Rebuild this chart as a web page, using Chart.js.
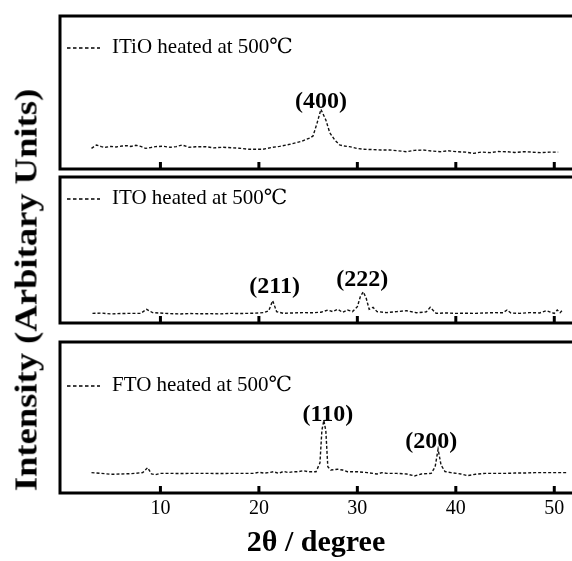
<!DOCTYPE html>
<html>
<head>
<meta charset="utf-8">
<script src="https://cdn.jsdelivr.net/npm/chart.js@4.4.0/dist/chart.umd.min.js"></script>
<style>
  html, body { margin: 0; padding: 0; background: #fff; }
  #wrap { position: relative; width: 572px; height: 561px; overflow: hidden; background: #fff; }
  canvas { position: absolute; left: 0; }
  #ytitle {
    position: absolute; left: 26px; top: 290px;
    font: bold 31px "Liberation Serif", "Times New Roman", serif;
    line-height: 1; white-space: nowrap; color: #000;
    transform: translate(-50%, -50%) rotate(-90deg) scaleX(1.18);
  }
</style>
</head>
<body>
<div id="wrap">
  <canvas id="c1" width="572" height="175" style="top:0px"></canvas>
  <canvas id="c2" width="572" height="155" style="top:172px"></canvas>
  <canvas id="c3" width="572" height="231" style="top:330px"></canvas>
  <div id="ytitle">Intensity (Arbitary Units)</div>
</div>
<script>
// --- Data ---
const xTicks = [10, 20, 30, 40, 50];

const itioX = [3.0, 3.5, 4.0, 4.4, 5.0, 5.5, 6.1, 6.6, 7.0, 7.5, 8.0, 8.5, 9.0, 9.5, 10.2, 11.0, 11.6, 12.2, 12.9, 13.6,
  14.6, 15.4, 16.3, 17.2, 18.0, 19.0, 20.4, 21.4, 22.1, 22.8, 23.3, 23.8, 24.3, 24.8, 25.2, 25.5, 25.9, 26.3, 26.8, 27.2,
  27.7, 28.2, 28.7, 29.2, 30.0, 30.6, 31.5, 32.4, 33.3, 34.0, 35.0, 35.8, 36.7, 37.5, 38.4, 39.2, 40.1, 41.0, 41.8, 42.6,
  43.5, 44.3, 45.2, 46.0, 46.9, 47.8, 48.6, 49.5, 50.4];
const itioY = [13.5, 15.7, 14.6, 14.2, 14.8, 14.4, 15.0, 15.3, 14.7, 15.5, 14.8, 13.5, 14.0, 14.6, 14.9, 14.2, 14.6, 15.7, 14.2, 14.5,
  14.6, 13.8, 14.2, 13.9, 13.6, 12.9, 12.9, 14.2, 14.8, 15.7, 16.4, 17.2, 18.0, 19.4, 20.3, 21.6, 29.8, 39.0, 32.0, 23.7,
  19.0, 15.7, 15.0, 14.6, 13.4, 12.9, 12.7, 12.4, 12.4, 12.0, 11.3, 12.2, 12.4, 11.8, 11.3, 11.9, 11.3, 11.0, 10.2, 11.1,
  10.7, 11.4, 11.3, 10.8, 11.3, 11.0, 10.7, 11.0, 11.0];

const itoX = [3.1, 4.0, 5.0, 6.0, 7.0, 8.0, 8.6, 9.2, 10.0, 11.0, 12.0, 13.0, 14.0, 15.0, 16.0, 17.0, 18.0, 19.0, 20.0, 20.5,
  21.0, 21.4, 21.8, 22.5, 23.5, 24.5, 25.5, 26.3, 27.0, 27.5, 28.0, 28.5, 29.0, 29.5, 30.0, 30.3, 30.6, 30.9, 31.2, 31.6,
  32.0, 33.0, 34.0, 35.0, 36.0, 37.0, 37.4, 38.0, 39.0, 40.0, 41.0, 42.0, 43.0, 44.0, 44.8, 45.2, 45.6, 46.5, 47.5, 48.5,
  49.2, 49.6, 50.0, 50.3, 50.6, 50.9];
const itoY = [6.6, 6.8, 6.2, 6.5, 6.6, 6.6, 9.4, 7.1, 6.8, 6.4, 6.2, 6.5, 6.3, 6.4, 6.2, 6.6, 6.5, 6.6, 6.9, 7.1,
  8.4, 15.3, 7.8, 6.6, 6.9, 7.1, 7.0, 7.4, 8.9, 7.8, 9.4, 7.3, 8.9, 7.8, 11.2, 18.0, 21.4, 16.9, 9.4, 10.7,
  7.8, 7.1, 7.8, 8.4, 7.0, 7.6, 10.7, 6.6, 6.9, 6.6, 6.7, 6.6, 6.9, 7.1, 7.0, 8.9, 6.8, 6.6, 7.1, 6.9,
  8.4, 7.5, 6.6, 8.9, 7.1, 9.4];

const ftoX = [3.0, 4.0, 5.0, 6.0, 7.0, 8.2, 8.7, 9.1, 9.5, 10.0, 11.0, 12.0, 13.0, 14.0, 15.0, 16.0, 17.0, 18.0, 19.0, 19.5,
  20.0, 20.5, 21.0, 21.5, 22.0, 22.5, 23.0, 23.5, 24.0, 24.5, 25.0, 25.8, 26.2, 26.4, 26.6, 26.8, 27.0, 27.3, 28.0, 28.5,
  29.0, 30.0, 31.0, 32.0, 32.5, 33.0, 34.0, 35.0, 35.8, 36.5, 37.5, 37.9, 38.2, 38.5, 38.9, 39.5, 40.5, 41.2, 42.0, 43.0,
  44.0, 45.0, 46.0, 47.0, 48.0, 49.0, 50.0, 51.4];
const ftoY = [13.5, 13.0, 12.4, 12.6, 12.8, 13.5, 16.8, 12.6, 12.1, 13.0, 13.0, 12.9, 13.0, 13.0, 13.0, 12.9, 13.0, 13.0, 13.0, 13.0,
  13.7, 13.2, 13.5, 14.1, 13.0, 14.3, 13.5, 14.1, 14.1, 14.8, 14.1, 14.1, 19.9, 41.7, 48.1, 41.0, 17.4, 15.2, 15.7, 15.2,
  14.1, 14.1, 13.5, 12.6, 13.5, 13.0, 13.0, 12.6, 11.3, 12.6, 13.0, 17.4, 29.0, 18.5, 14.2, 13.5, 12.6, 11.5, 12.4, 13.0,
  13.0, 13.0, 13.2, 13.2, 13.5, 13.5, 13.5, 13.5];

// peak labels (hkl) and where they sit, in data units
const itioPeaks = ['(400)'];
const itioPeakX = [26.3];
const itioPeakY = [39.9];
const itoPeaks = ['(211)', '(222)'];
const itoPeakX = [21.6, 30.5];
const itoPeakY = [20.5, 25.3];
const ftoPeaks = ['(110)', '(200)'];
const ftoPeakX = [27.0, 37.5];
const ftoPeakY = [47.7, 29.8];

const serif = '"Liberation Serif", "Times New Roman", "DejaVu Serif", serif';

// --- frame, inner tick marks, legend and peak labels ---
const panelDecor = {
    id: 'panelDecor',
    afterDatasetsDraw(chart, args, opts) {
        const { ctx, chartArea: a, scales: { x, y } } = chart;
        ctx.save();
        ctx.strokeStyle = '#000';
        ctx.lineWidth = 3;
        ctx.setLineDash([]);
        ctx.beginPath();
        ctx.moveTo(a.right + 3, a.top);
        ctx.lineTo(a.left, a.top);
        ctx.lineTo(a.left, a.bottom);
        ctx.lineTo(a.right + 3, a.bottom);
        ctx.stroke();

        // tick marks pointing into the panel
        xTicks.forEach(v => {
            const px = x.getPixelForValue(v);
            ctx.beginPath();
            ctx.moveTo(px, a.bottom);
            ctx.lineTo(px, a.bottom - 7);
            ctx.stroke();
        });

        // legend line + text
        const ly = a.top + opts.legendOffset;
        ctx.lineWidth = 1.3;
        ctx.setLineDash([3.5, 2.5]);
        ctx.beginPath();
        ctx.moveTo(a.left + 7, ly + 1);
        ctx.lineTo(a.left + 40, ly + 1);
        ctx.stroke();
        ctx.setLineDash([]);
        ctx.fillStyle = '#000';
        ctx.font = '21px ' + serif;
        ctx.textAlign = 'left';
        ctx.textBaseline = 'middle';
        ctx.fillText(chart.data.datasets[0].label, a.left + 52, ly);

        // peak labels
        ctx.font = 'bold 24px ' + serif;
        ctx.textAlign = 'center';
        ctx.textBaseline = 'alphabetic';
        opts.peaks.forEach((t, i) => {
            ctx.fillText(t, x.getPixelForValue(opts.peakX[i]), y.getPixelForValue(opts.peakY[i]));
        });
        ctx.restore();
    }
};

function makePanel(id, label, xs, ys, peaks, peakX, peakY, legendOffset, padding, showAxis) {
    return new Chart(document.getElementById(id), {
        type: 'line',
        data: {
            datasets: [{
                label: label,
                data: xs.map((v, i) => ({ x: v, y: ys[i] })),
                borderColor: '#111',
                borderWidth: 1.4,
                borderDash: [3, 2],
                pointRadius: 0,
                tension: 0,
                fill: false
            }]
        },
        options: {
            responsive: false,
            animation: false,
            layout: { padding: padding },
            plugins: {
                legend: { display: false },
                tooltip: { enabled: false },
                panelDecor: { legendOffset, peaks, peakX, peakY }
            },
            scales: {
                x: {
                    type: 'linear',
                    min: -0.2,
                    max: 51.8,
                    display: showAxis,
                    afterBuildTicks: s => { s.ticks = xTicks.map(v => ({ value: v })); },
                    afterFit: s => { if (showAxis) s.height = 68; },
                    grid: { display: false, drawTicks: false },
                    border: { display: false },
                    ticks: { padding: 4, color: '#000', maxRotation: 0, font: { family: serif, size: 20 } },
                    title: {
                        display: true,
                        text: '2θ / degree',
                        color: '#000',
                        padding: 0,
                        font: { family: serif, size: 30, weight: 'bold' }
                    }
                },
                y: { display: false, min: 0, max: 100 }
            }
        },
        plugins: [panelDecor]
    });
}

makePanel('c1', 'ITiO heated at 500℃', itioX, itioY, itioPeaks, itioPeakX, itioPeakY, 31,
    { top: 16, bottom: 6, left: 60, right: 0 }, false);
makePanel('c2', 'ITO heated at 500℃', itoX, itoY, itoPeaks, itoPeakX, itoPeakY, 21,
    { top: 5, bottom: 4, left: 60, right: 0 }, false);
makePanel('c3', 'FTO heated at 500℃', ftoX, ftoY, ftoPeaks, ftoPeakX, ftoPeakY, 43,
    { top: 12, bottom: 0, left: 60, right: 0 }, true);
</script>
</body>
</html>
